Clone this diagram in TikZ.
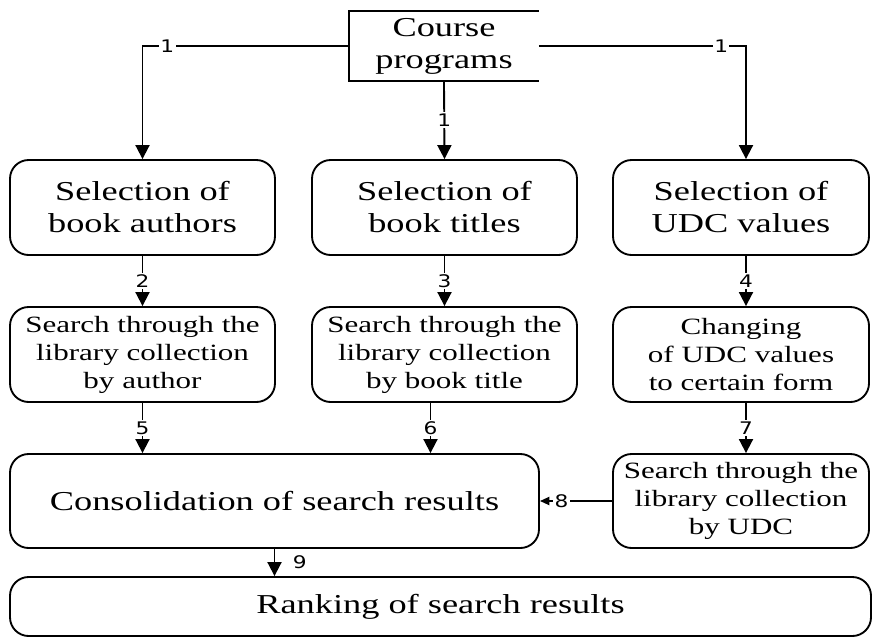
\documentclass[tikz,border=0pt]{standalone}
\usepackage{fontspec}
\setmainfont{Liberation Serif}[FakeStretch=1.33]
\newfontfamily\numfont{DejaVu Sans}[FakeStretch=1.25]
\usetikzlibrary{arrows.meta}

\tikzset{every picture/.style={line width=1.4pt}}
\tikzset{
  bigbox/.style={draw, rounded corners=14pt, align=center, inner sep=0pt,
    minimum width=198.75pt, minimum height=71.25pt,
    font=\fontsize{20.5}{24}\selectfont},
  smallbox/.style={draw, rounded corners=14pt, align=center, inner sep=0pt,
    minimum width=198.75pt, minimum height=71.25pt,
    font=\fontsize{17.5}{21}\selectfont},
  numlbl/.style={fill=white, inner sep=1pt, font=\numfont\fontsize{13}{14}\selectfont},
  flow/.style={-{Triangle[length=10.5pt,width=10.5pt]}},
  flowsmall/.style={-{Triangle[length=7pt,width=6pt]}},
}

\begin{document}
\begin{tikzpicture}[x=0.75pt,y=0.75pt,yscale=-1,xscale=1]
%set diagram size to the reference
\useasboundingbox (0,0) rectangle (872,640);

%Shape: Course programs (open on the right)
\node[align=center, inner sep=0pt, minimum width=141pt, minimum height=51pt,
  font=\fontsize{20.5}{24}\selectfont] (course) at (444,46) {Course\\programs};
\draw (course.north east) -- (course.north west) -- (course.south west) -- (course.south east);

%Row 1: selection boxes
\node[bigbox] (selA) at (142.5,207.5) {Selection of\\book authors};
\node[bigbox] (selT) at (444.5,207.5) {Selection of\\book titles};
\node[bigbox, minimum width=192pt] (selU) at (741,207.5) {Selection of\\UDC values};

%Row 2: search and conversion boxes
\node[smallbox] (srchA) at (142.5,354.5) {Search through the\\library collection\\by author};
\node[smallbox] (srchT) at (444.5,354.5) {Search through the\\library collection\\by book title};
\node[smallbox, minimum width=192pt] (chgU) at (741,354.5) {Changing\\of UDC values\\to certain form};

%Row 3: consolidation and UDC search
\node[bigbox, minimum width=396.75pt, minimum height=70.5pt] (cons) at (274.5,501) {Consolidation of search results};
\node[smallbox, minimum width=192pt, minimum height=70.5pt] (srchU) at (741,501) {Search through the\\library collection\\by UDC};

%Row 4: ranking
\node[bigbox, minimum width=645.75pt, minimum height=44.25pt] (rank) at (440.5,606.5) {Ranking of search results};

%Connectors from course programs
\draw[flow] (course.west) -| node[numlbl, pos=0.44] {1} (selA.north);
\draw[flow] (course.south) -- node[numlbl] {1} (selT.north);
\draw[flow] (course.east) -| node[numlbl, pos=0.44] {1} ([xshift=3.75pt]selU.north);

%Connectors row 1 to row 2
\draw[flow] (selA.south) -- node[numlbl] {2} (srchA.north);
\draw[flow] (selT.south) -- node[numlbl] {3} (srchT.north);
\draw[flow] ([xshift=3.75pt]selU.south) -- node[numlbl] {4} ([xshift=3.75pt]chgU.north);

%Connectors row 2 to row 3
\draw[flow] (srchA.south) -- node[numlbl] {5} (srchA.south |- cons.north);
\draw[flow] ([xshift=-10.5pt]srchT.south) -- node[numlbl] {6} ([xshift=-10.5pt]srchT.south |- cons.north);
\draw[flow] ([xshift=3.75pt]chgU.south) -- node[numlbl] {7} ([xshift=3.75pt]srchU.north);

%Connectors to consolidation and ranking
\draw[flowsmall] (srchU.west) -- node[numlbl, pos=0.7] {8} (cons.east);
\draw[flow] (cons.south) -- node[numlbl, fill=none, right=12pt] {9} (cons.south |- rank.north);

\end{tikzpicture}
\end{document}
